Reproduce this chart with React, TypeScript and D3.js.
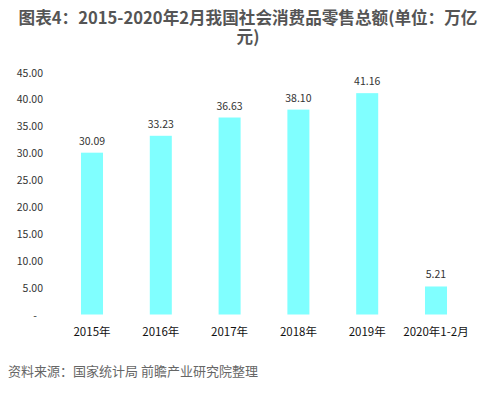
import React, { useEffect, useRef } from "react";
import * as d3 from "d3";

const categories = ["2015年", "2016年", "2017年", "2018年", "2019年", "2020年1-2月"];
const values = [30.09, 33.23, 36.63, 38.1, 41.16, 5.21];
const ticks = [0, 5, 10, 15, 20, 25, 30, 35, 40, 45];

const titleLines = ["图表4：2015-2020年2月我国社会消费品零售总额(单位：万亿", "元)"];
const source = "资料来源：国家统计局 前瞻产业研究院整理";

const W = 497;
const H = 394;
const font = "'Noto Sans CJK SC', 'Liberation Sans', sans-serif";

export default function App() {
	const ref = useRef<SVGSVGElement | null>(null);

	useEffect(() => {
		const svg = d3.select(ref.current);
		svg.selectAll("*").remove();

		const x = d3
			.scaleBand()
			.domain(categories)
			.range([57.6, 470.4])
			.paddingInner(0.68)
			.paddingOuter(0.34);
		const y = d3.scaleLinear().domain([0, 45]).range([314.5, 72.5]);

		svg.append("rect").attr("width", W).attr("height", H).attr("fill", "#fff");

		// title, wrapped onto two lines
		const title = svg
			.append("text")
			.attr("text-anchor", "middle")
			.attr("font-family", font)
			.attr("font-size", 16.6)
			.attr("font-weight", "bold")
			.attr("fill", "#555");
		title
			.selectAll("tspan")
			.data(titleLines)
			.enter()
			.append("tspan")
			.attr("x", 248)
			.attr("y", (d, i) => 24 + i * 19)
			.text(d => d);

		// y tick labels
		svg
			.selectAll(".ytick")
			.data(ticks)
			.enter()
			.append("text")
			.attr("x", d => (d === 0 ? 37 : 43))
			.attr("y", d => y(d) + 4)
			.attr("text-anchor", "end")
			.attr("font-family", font)
			.attr("font-size", 10.5)
			.attr("fill", "#333")
			.text(d => (d === 0 ? "-" : d.toFixed(2)));

		// bars
		svg
			.selectAll(".bar")
			.data(values)
			.enter()
			.append("rect")
			.attr("x", (d, i) => x(categories[i]) as number)
			.attr("width", x.bandwidth())
			.attr("y", d => y(d))
			.attr("height", d => y(0) - y(d))
			.attr("fill", "#80ffff");

		// value labels
		svg
			.selectAll(".val")
			.data(values)
			.enter()
			.append("text")
			.attr("x", (d, i) => (x(categories[i]) as number) + x.bandwidth() / 2)
			.attr("y", d => y(d) - 8)
			.attr("text-anchor", "middle")
			.attr("font-family", font)
			.attr("font-size", 10.5)
			.attr("fill", "#333")
			.text(d => d.toFixed(2));

		// x labels
		svg
			.selectAll(".xl")
			.data(categories)
			.enter()
			.append("text")
			.attr("x", d => (x(d) as number) + x.bandwidth() / 2)
			.attr("y", 336)
			.attr("text-anchor", "middle")
			.attr("font-family", font)
			.attr("font-size", 11.5)
			.attr("fill", "#111")
			.text(d => d);

		// source
		svg
			.append("text")
			.attr("x", 8)
			.attr("y", 376)
			.attr("font-family", font)
			.attr("font-size", 13)
			.attr("fill", "#666")
			.text(source);
	}, []);

	return (
		<svg
			ref={ref}
			width={W}
			height={H}
			style={{ position: "absolute", left: 0, top: 0, display: "block" }}
		/>
	);
}
